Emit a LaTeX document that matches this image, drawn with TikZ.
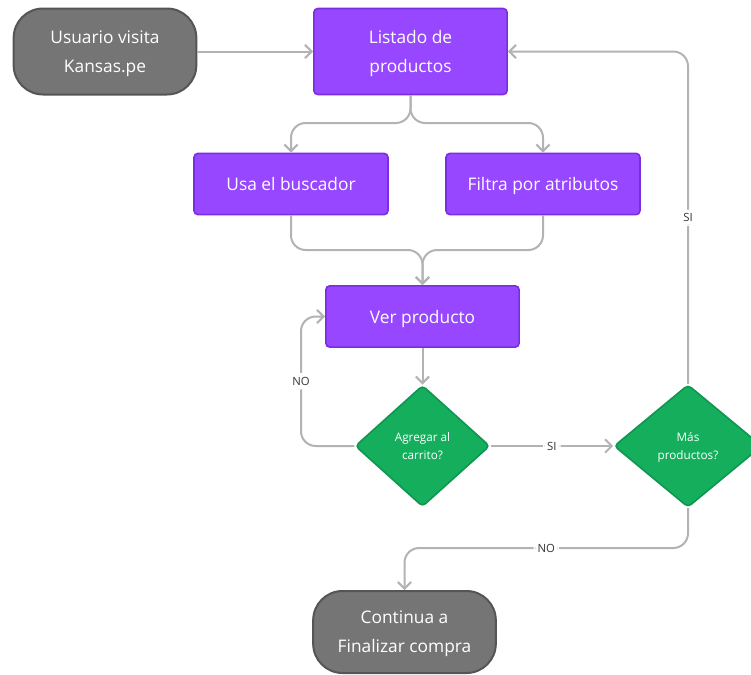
\documentclass[tikz,border=0pt]{standalone}
\usepackage{fontspec}
\setmainfont{Open Sans}
\usetikzlibrary{arrows.meta,shapes.geometric}
\definecolor{purp}{HTML}{9747FF}
\definecolor{purpline}{HTML}{7A2EE0}
\definecolor{grn}{HTML}{14AE5C}
\definecolor{grnline}{HTML}{0F9650}
\definecolor{term}{HTML}{757575}
\definecolor{termline}{HTML}{555555}
\definecolor{wire}{HTML}{B3B3B3}
\definecolor{lbltext}{HTML}{333333}

\begin{document}
\begin{tikzpicture}[x=0.75pt,y=-0.75pt,
  terminal/.style={draw=termline, fill=term, line width=1.5pt, rounded corners=22pt,
    text=white, font=\fontsize{13}{21.75}\selectfont, align=center, inner sep=0pt, text depth=0pt},
  process/.style={draw=purpline, fill=purp, line width=1.2pt, rounded corners=3pt,
    text=white, font=\fontsize{13}{21.75}\selectfont, align=center, inner sep=0pt, text depth=0pt},
  decision/.style={diamond, draw=grnline, fill=grn, line width=1.2pt, rounded corners=3pt,
    text=white, font=\fontsize{8.8}{13.5}\selectfont, align=center, inner sep=0pt, text depth=0pt},
  conn/.style={draw=wire, line width=1.5pt, rounded corners=11pt,
    -{Straight Barb[length=5pt,width=10pt]}},
  lbl/.style={fill=white, text=lbltext, font=\fontsize{8.5}{10}\selectfont, inner sep=3pt}]

\useasboundingbox (0,0) rectangle (751,675);
\fill[white] (0,0) rectangle (751,675);
\clip (0,0) rectangle (751,675);

% steps of the flow
\node[terminal, minimum width=137pt, minimum height=64.5pt] (start) at (105,51.5) {Usuario visita\\Kansas.pe};
\node[process, minimum width=145pt, minimum height=64.5pt] (list) at (410.5,51.5) {Listado de\\productos};
\node[process, minimum width=145.5pt, minimum height=46pt] (search) at (291,184) {Usa el buscador};
\node[process, minimum width=145.5pt, minimum height=46pt] (filter) at (543,184) {Filtra por atributos};
\node[process, minimum width=145pt, minimum height=46pt] (view) at (422.5,316.5) {Ver producto};
\node[decision, minimum width=101pt, minimum height=91pt] (add) at (422.5,446) {Agregar al\\carrito?};
\node[decision, minimum width=111pt, minimum height=92pt] (more) at (688,446) {Más\\productos?};
\node[terminal, minimum width=137pt, minimum height=61.5pt] (end) at (404.5,632) {Continua a\\Finalizar compra};

% bend points
\coordinate (split) at (410.5,123);
\coordinate (merge) at (422.5,250);

% connectors
\draw[conn] (start) -- (list);
\draw[conn] (list) -- (split) -| (search);
\draw[conn] (list) -- (split) -| (filter);
\draw[conn] (search) |- (merge) -- (view);
\draw[conn] (filter) |- (merge) -- (view);
\draw[conn] (view) -- (add);
\draw[conn] (add.west) -- (301,446) -- node[lbl]{NO} (301,316.5) -- (view.west);
\draw[conn] (add.east) -- node[lbl]{SI} (more.west);
\draw[conn] (more.north) -- node[lbl]{SI} (688,51.5) -- (list.east);
\draw[conn] (more.south) -- (688,548) -- node[lbl]{NO} (404.5,548) -- (end.north);
\end{tikzpicture}
\end{document}
